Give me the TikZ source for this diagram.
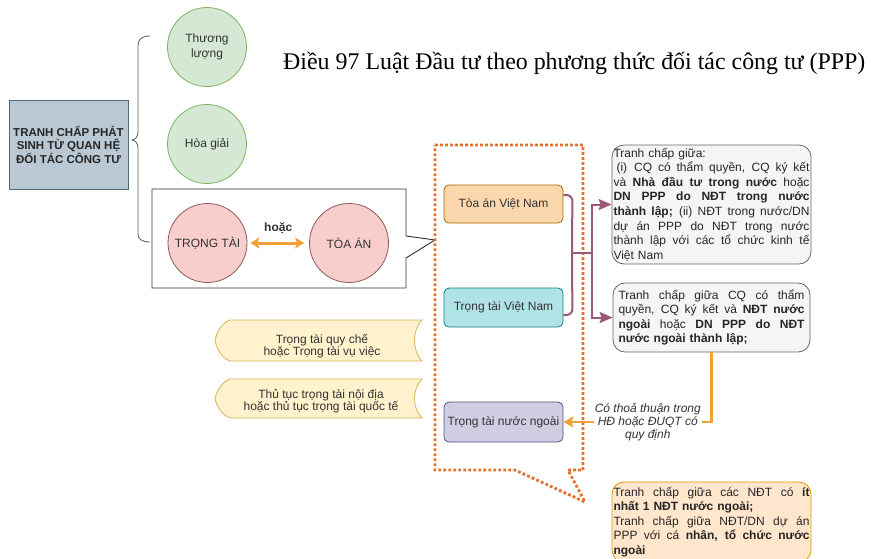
\documentclass[tikz,border=0pt]{standalone}
\usepackage{fontspec}
\setmainfont{Liberation Sans}
\newfontfamily\titlefont{Liberation Serif}
\usetikzlibrary{arrows.meta,calc}

\definecolor{rootfill}{HTML}{BAC8D3}
\definecolor{rootline}{HTML}{23445D}
\definecolor{greenfill}{HTML}{D5E8D4}
\definecolor{greenline}{HTML}{82B366}
\definecolor{pinkfill}{HTML}{F8CECC}
\definecolor{pinkline}{HTML}{8C5A58}
\definecolor{orfill}{HTML}{FAD7AC}
\definecolor{orline}{HTML}{B46504}
\definecolor{cyfill}{HTML}{B0E3E6}
\definecolor{cyline}{HTML}{0E8088}
\definecolor{vifill}{HTML}{D0CEE2}
\definecolor{viline}{HTML}{56517E}
\definecolor{grfill}{HTML}{F5F5F5}
\definecolor{grline}{HTML}{666666}
\definecolor{pefill}{HTML}{FFE6CC}
\definecolor{peline}{HTML}{D79B00}
\definecolor{yefill}{HTML}{FFF2CC}
\definecolor{yeline}{HTML}{D6B656}
\definecolor{dotorange}{HTML}{E4702C}
\definecolor{arrorange}{HTML}{F4A03A}
\definecolor{mauve}{HTML}{9B5878}
\definecolor{txt}{HTML}{333333}

% one fully justified line of a text block: every word gap stretches equally
\newcommand{\jline}[2]{\leavevmode\hbox to #1{\spaceskip=0.28em plus 1fil\xspaceskip=0.28em plus 1fil #2}}

\tikzset{
  base/.style={font=\fontsize{12}{14.6}\selectfont, text=txt},
  disc/.style={base, circle, draw, line width=0.8pt, minimum size=79pt, inner sep=0pt, align=center},
  kind/.style={base, draw, line width=0.8pt, rounded corners=5pt, minimum width=119pt, inner sep=0pt},
  note/.style={base, draw=grline, fill=grfill, line width=0.8pt, rounded corners=12pt, inner xsep=1.5pt, inner ysep=0pt, align=left, text=black!85},
  dotline/.style={draw=dotorange, line width=2.8pt, dash pattern=on 2.8pt off 2.2pt},
  parrow/.style={draw=mauve, line width=2pt, -{Stealth[length=13pt,width=11pt,inset=2pt]}},
  oarrow/.style={draw=arrorange, line width=2.5pt, -{Stealth[length=10pt,width=11pt,inset=2pt]}},
  darrow/.style={draw=arrorange, line width=3pt, {Stealth[length=9pt,width=11pt,inset=2pt]}-{Stealth[length=9pt,width=11pt,inset=2pt]}},
  tag/.style={base, draw=yeline, fill=yefill, line width=0.8pt},
  tagtext/.style={base, align=center, font=\fontsize{12}{12.5}\selectfont},
}

\begin{document}
\begin{tikzpicture}[x=1pt,y=-1pt]
\useasboundingbox (0,0) rectangle (871,558);

% root box
\node[base, draw=rootline!80, fill=rootfill, line width=0.8pt, minimum width=119pt, minimum height=89pt,
      inner sep=0pt, align=center, font=\fontsize{11.5}{13.5}\selectfont\bfseries, text=black!85]
  (root) at (68.5,144.5) {TRANH CHẤP PHÁT\\SINH TỪ QUAN HỆ\\ĐỐI TÁC CÔNG TƯ};

% brace
\draw[grline, line width=0.9pt]
  (150,36) .. controls (142,36) and (138,39) .. (138,46)
  -- (138,132) .. controls (138,137) and (136,139) .. (132,140)
  .. controls (136,141) and (138,143) .. (138,148)
  -- (138,234) .. controls (138,239) and (142,242) .. (150,242);

% methods
\node[disc, draw=greenline, fill=greenfill] (neg) at (207,47) {Thương\\lượng};
\node[disc, draw=greenline, fill=greenfill] (med) at (207,144) {Hòa giải};

% framed arbitration / court pair with pointer
\draw[draw=black!80, fill=white, line width=0.9pt]
  (152,189) -- (406,189) -- (406,236) -- (435,240) -- (406,258) -- (406,288) -- (152,288) -- cycle;
\node[disc, draw=pinkline, fill=pinkfill] (arb) at (207.5,243) {TRỌNG TÀI};
\node[disc, draw=pinkline, fill=pinkfill] (court) at (349,243) {TÒA ÁN};
\draw[darrow, shorten <=3pt, shorten >=5pt] (arb) -- (court)
  node[midway, above=5pt, base, font=\fontsize{12}{14}\selectfont\bfseries] (or) {hoặc};

% heading
\node[anchor=west, inner sep=0pt, font=\titlefont\fontsize{23.9}{27}\selectfont, text=black] (title) at (283,63)
  {Điều 97 Luật Đầu tư theo phương thức đối tác công tư (PPP)};

% dotted callout around the forums
\draw[dotline]
  (435,145) -- (583,145) -- (583,470) -- (568,470) -- (585,502) -- (515,470) -- (435,470) -- cycle;

\node[kind, draw=orline, fill=orfill, minimum height=38pt] (tavn) at (503.5,204) {Tòa án Việt Nam};
\node[kind, draw=cyline, fill=cyfill, minimum height=39pt] (ttvn) at (503.5,307.5) {Trọng tài Việt Nam};
\node[kind, draw=viline, fill=vifill, minimum height=40pt] (ttnn) at (503.5,422) {Trọng tài nước ngoài};

% domestic forums joined by a bracket
\coordinate (j) at (572,253);
\coordinate (split) at (592,253);
\draw[mauve, line width=2pt, rounded corners=6pt]
  ($(tavn.east)+(0,-9)$) -- ($(tavn.east)+(9,-9)$) -- (j);
\draw[mauve, line width=2pt, rounded corners=6pt]
  ($(ttvn.east)+(0,7.5)$) -- ($(ttvn.east)+(9,7.5)$) -- (j);
\draw[mauve, line width=2pt] (j) -- (split);

% dispute descriptions
\node[note, minimum width=199pt, minimum height=119pt, text width=196pt] (d1) at (711.5,204.5)
  {Tranh chấp giữa:\\
   \jline{196pt}{\kern3pt(i)\kern7pt CQ có thẩm quyền, CQ ký kết}\\
   \jline{196pt}{và \textbf{Nhà đầu tư trong nước} hoặc}\\
   \jline{196pt}{\textbf{DN PPP do NĐT trong nước}}\\
   \jline{196pt}{\textbf{thành lập;} (ii) NĐT trong nước/DN}\\
   \jline{196pt}{dự án PPP do NĐT trong nước}\\
   \jline{196pt}{thành lập với các tổ chức kinh tế}\\
   Việt Nam};

\node[note, minimum width=197pt, minimum height=69pt, text width=186pt, inner xsep=5.5pt] (d2) at (711.5,317.5)
  {\jline{186pt}{Tranh chấp giữa CQ có thẩm}\\
   \jline{186pt}{quyền, CQ ký kết và \textbf{NĐT nước}}\\
   \jline{186pt}{\textbf{ngoài} hoặc \textbf{DN PPP do NĐT}}\\
   \textbf{nước ngoài thành lập;}};

\node[note, draw=peline, fill=pefill, minimum width=199pt, minimum height=80pt, text width=196pt] (d3) at (711.5,522)
  {\jline{196pt}{Tranh chấp giữa các NĐT có \textbf{ít}}\\
   \textbf{nhất 1 NĐT nước ngoài;}\\
   \jline{196pt}{Tranh chấp giữa NĐT/DN dự án}\\
   \jline{196pt}{PPP với cá \textbf{nhân, tổ chức nước}}\\
   \textbf{ngoài}};

\draw[parrow] (split) |- (d1.west);
\draw[parrow] (split) |- (d2.west);

\draw[oarrow] (d2.south) |- node[pos=0.715, base, fill=white, inner sep=1pt, align=center,
    font=\fontsize{12}{13.2}\selectfont\itshape] (cond) {Có thoả thuận trong\\HĐ hoặc ĐUQT có\\quy định} (ttnn.east);

% procedural choices
\draw[tag] (230,320) -- (422,320) .. controls (412,330) and (412,351) .. (422,361)
  -- (230,361) .. controls (222,358) and (217,350) .. (215,340.5)
  .. controls (217,331) and (222,323) .. (230,320) -- cycle;
\node[tagtext] (y1) at (322,346) {Trọng tài quy chế\\hoặc Trọng tài vụ việc};
\draw[tag] (230,379) -- (422,379) .. controls (412,389) and (412,408) .. (422,418)
  -- (230,418) .. controls (222,415) and (217,407) .. (215,398.5)
  .. controls (217,390) and (222,382) .. (230,379) -- cycle;
\node[tagtext] (y2) at (321,401) {Thủ tục trọng tài nội địa\\hoặc thủ tục trọng tài quốc tế};
\end{tikzpicture}
\end{document}
